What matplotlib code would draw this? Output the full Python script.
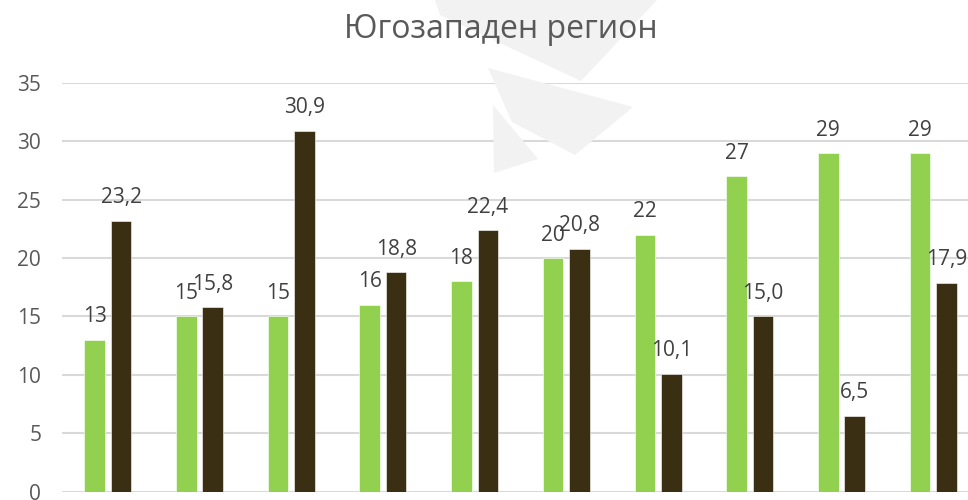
import matplotlib
matplotlib.use("Agg")
import matplotlib.pyplot as plt
from matplotlib.patches import Polygon
import numpy as np

plt.rcParams['font.family'] = ['Open Sans', 'DejaVu Sans']

title = "Югозападен регион"
green_vals = [13, 15, 15, 16, 18, 20, 22, 27, 29, 29]
dark_vals = [23.2, 15.8, 30.9, 18.8, 22.4, 20.8, 10.1, 15.0, 6.5, 17.9]
yticks = [0, 5, 10, 15, 20, 25, 30, 35]

green = "#92D050"
dark = "#3B2F13"
grey = "#595959"

fig = plt.figure(figsize=(9.68, 5.0), dpi=100)

# faint watermark shapes behind the chart
wm = [
    [(435, 0), (440, 15), (581, 81), (657, 0)],
    [(488, 68), (633, 107), (575, 155), (512, 122)],
    [(493, 105), (538, 159), (494, 173)],
]
for pts in wm:
    p = Polygon([(x / 968, 1 - y / 500) for x, y in pts], closed=True,
                transform=fig.transFigure, facecolor="#f2f2f2", edgecolor="none", zorder=0)
    fig.patches.append(p)

ax = fig.add_axes([62 / 968, 8.5 / 500, 917 / 968, 408.5 / 500])
ax.patch.set_alpha(0)

x = np.arange(len(green_vals))
w = 0.224
off = 0.144
b1 = ax.bar(x - off, green_vals, w, color=green, edgecolor="white", linewidth=0.4, zorder=3)
b2 = ax.bar(x + off, dark_vals, w, color=dark, edgecolor="white", linewidth=0.4, zorder=3)

for rect, v in zip(b1, green_vals):
    ax.annotate(f"{v}", (rect.get_x() + rect.get_width() / 2, v), xytext=(0, 9),
                textcoords="offset points", ha="center", va="bottom", fontsize=15, color="#404040")
for rect, v in zip(b2, dark_vals):
    ax.annotate(f"{v:.1f}".replace(".", ","), (rect.get_x() + rect.get_width() / 2, v), xytext=(0, 9),
                textcoords="offset points", ha="center", va="bottom", fontsize=15, color="#404040")

ax.set_xlim(-0.5, len(green_vals) - 0.5)
ax.set_ylim(0, 35)
ax.set_yticks(yticks)
ax.set_xticks([])
ax.yaxis.grid(True, color="#d9d9d9", linewidth=1.5, zorder=0)
ax.set_axisbelow(True)
for s in ax.spines.values():
    s.set_visible(False)
ax.tick_params(axis="y", length=0, pad=15, labelsize=15, labelcolor=grey)

fig.text(501 / 968, 1 - 38 / 500, title, ha="center", va="baseline", fontsize=23, color=grey)

fig.savefig("out.png", dpi=100)
